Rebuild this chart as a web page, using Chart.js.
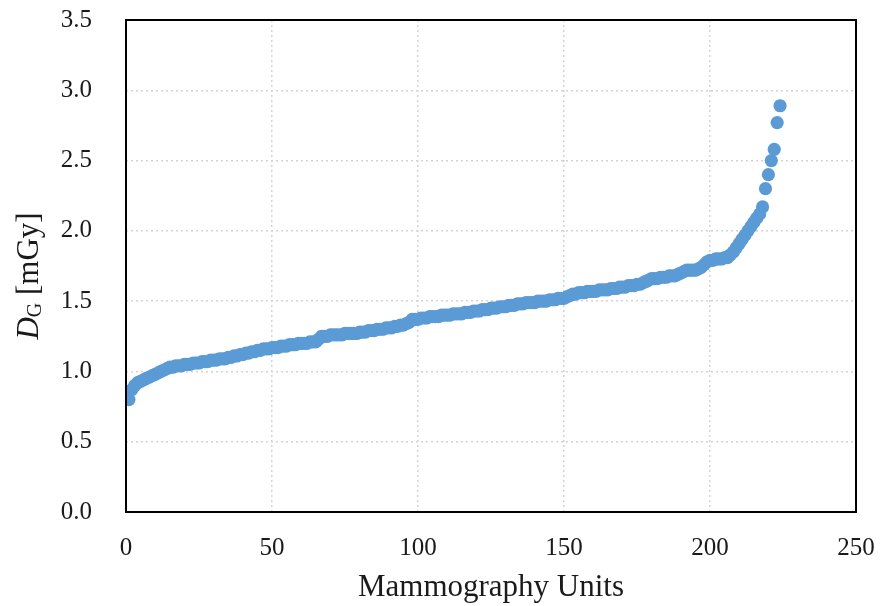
<!DOCTYPE html>
<html><head><meta charset="utf-8">
<script src="https://cdn.jsdelivr.net/npm/chart.js@4/dist/chart.umd.min.js"></script>
<style>html,body{margin:0;padding:0;background:#fff}#wrap{width:880px;height:606px}</style>
</head><body><div id="wrap"><canvas id="c" width="880" height="606"></canvas></div>
<script>
const xTickValues = [0, 50, 100, 150, 200, 250];
const yTickValues = [0, 0.5, 1.0, 1.5, 2.0, 2.5, 3.0, 3.5];
const xAxisTitle = "Mammography Units";
const yAxisTitleMain = "D";
const yAxisTitleSub = "G";
const yAxisTitleRest = " [mGy]";
// D_G per mammography unit (sorted), unit index 1..224
const doseValues = [
0.80,0.87,0.90,0.92,0.93,0.94,0.95,0.96,0.97,0.98,
0.99,1.00,1.01,1.02,1.03,1.03,1.04,1.04,1.04,1.05,
1.05,1.05,1.06,1.06,1.06,1.07,1.07,1.07,1.08,1.08,
1.08,1.09,1.09,1.09,1.10,1.10,1.11,1.11,1.12,1.12,
1.13,1.13,1.14,1.14,1.15,1.15,1.16,1.16,1.16,1.17,
1.17,1.17,1.18,1.18,1.18,1.19,1.19,1.19,1.20,1.20,
1.20,1.20,1.21,1.21,1.21,1.23,1.25,1.25,1.25,1.26,
1.26,1.26,1.26,1.26,1.27,1.27,1.27,1.27,1.27,1.28,
1.28,1.28,1.29,1.29,1.29,1.30,1.30,1.30,1.31,1.31,
1.31,1.32,1.32,1.33,1.33,1.34,1.35,1.37,1.37,1.37,
1.38,1.38,1.38,1.39,1.39,1.39,1.39,1.40,1.40,1.40,
1.40,1.41,1.41,1.41,1.41,1.42,1.42,1.42,1.43,1.43,
1.43,1.44,1.44,1.44,1.45,1.45,1.45,1.46,1.46,1.46,
1.47,1.47,1.47,1.48,1.48,1.48,1.49,1.49,1.49,1.49,
1.50,1.50,1.50,1.50,1.51,1.51,1.51,1.52,1.52,1.52,
1.53,1.54,1.55,1.55,1.56,1.56,1.56,1.57,1.57,1.57,
1.57,1.58,1.58,1.58,1.58,1.59,1.59,1.59,1.60,1.60,
1.60,1.61,1.61,1.61,1.62,1.62,1.63,1.64,1.65,1.66,
1.66,1.66,1.67,1.67,1.67,1.68,1.68,1.68,1.69,1.70,
1.71,1.72,1.72,1.72,1.72,1.73,1.74,1.76,1.78,1.79,
1.79,1.80,1.80,1.80,1.81,1.81,1.83,1.85,1.88,1.91,
1.94,1.97,2.00,2.03,2.06,2.09,2.12,2.17,2.30,2.40,
2.50,2.58,2.77,2.89
];
const unitIndex = doseValues.map((_, i) => i + 1);
const points = doseValues.map((v, i) => ({ x: unitIndex[i], y: v }));

const FONT = "'Liberation Serif', 'Times New Roman', serif";
const TEXT = "#1a1a1a";

const framePlugin = {
  id: 'frame',
  afterDatasetsDraw(chart) {
    const { ctx, chartArea: a } = chart;
    ctx.save();
    ctx.strokeStyle = '#000';
    ctx.lineWidth = 2;
    ctx.strokeRect(a.left, a.top, a.right - a.left, a.bottom - a.top);
    ctx.restore();
  },
  afterDraw(chart) {
    const { ctx } = chart;
    ctx.save();
    ctx.translate(30, 276);
    ctx.rotate(-Math.PI / 2);
    ctx.fillStyle = TEXT;
    ctx.textBaseline = 'middle';
    const fMain = "italic 31px " + FONT;
    const fSub = "20px " + FONT;
    const fRest = "31px " + FONT;
    ctx.font = fMain; const w1 = ctx.measureText(yAxisTitleMain).width;
    ctx.font = fSub; const w2 = ctx.measureText(yAxisTitleSub).width;
    ctx.font = fRest; const w3 = ctx.measureText(yAxisTitleRest).width;
    let x = -(w1 + w2 + w3) / 2;
    ctx.textAlign = 'left';
    ctx.font = fMain; ctx.fillText(yAxisTitleMain, x, 0); x += w1;
    ctx.font = fSub; ctx.fillText(yAxisTitleSub, x, 6); x += w2;
    ctx.font = fRest; ctx.fillText(yAxisTitleRest, x, 0);
    ctx.restore();
  }
};

new Chart(document.getElementById('c'), {
  type: 'scatter',
  data: {
    datasets: [{
      data: points,
      backgroundColor: '#5b9bd5',
      borderWidth: 0,
      pointRadius: 6.6,
      pointHoverRadius: 6.6
    }]
  },
  options: {
    responsive: false,
    animation: false,
    layout: { padding: { top: 20, right: 24, left: 0, bottom: 0 } },
    plugins: { legend: { display: false }, tooltip: { enabled: false } },
    scales: {
      x: {
        type: 'linear', min: 0, max: 250,
        afterFit(s) { s.height = 94; s.paddingLeft = 0; s.paddingRight = 0; },
        afterBuildTicks(s) { s.ticks = xTickValues.map(v => ({ value: v })); },
        ticks: { padding: 21, color: TEXT, font: { family: FONT, size: 25 }, callback: v => String(v) },
        grid: { color: '#d4d4d4', lineWidth: 1.5, drawTicks: false },
        border: { display: false, dash: [2, 3] },
        title: { display: true, text: xAxisTitle, color: TEXT, font: { family: FONT, size: 31 }, padding: { top: 0, bottom: 0 } }
      },
      y: {
        type: 'linear', min: 0, max: 3.5,
        afterFit(s) { s.width = 126; s.paddingTop = 0; s.paddingBottom = 0; },
        afterBuildTicks(s) { s.ticks = yTickValues.map(v => ({ value: v })); },
        ticks: { padding: 34, color: TEXT, font: { family: FONT, size: 25 }, callback: v => v.toFixed(1) },
        grid: { color: '#d4d4d4', lineWidth: 1.5, drawTicks: false },
        border: { display: false, dash: [2, 3] }
      }
    }
  },
  plugins: [framePlugin]
});
</script>
</body></html>
